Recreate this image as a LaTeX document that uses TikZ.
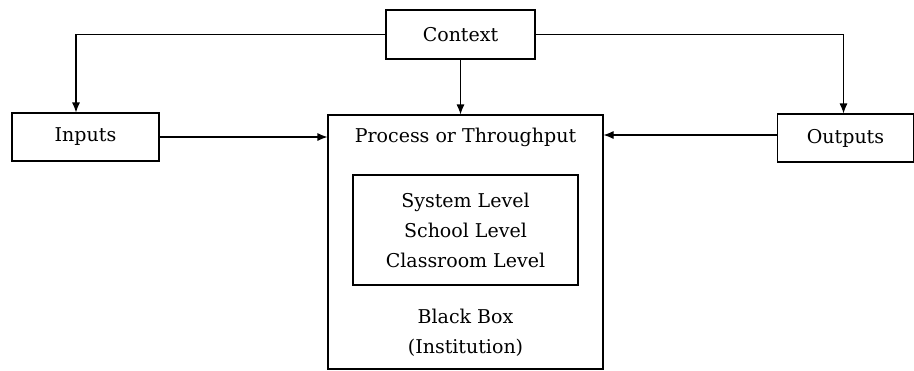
\documentclass[tikz,border=0pt]{standalone}
\usepackage{fontspec}
\setmainfont{DejaVu Serif}
\usetikzlibrary{positioning,arrows.meta}

\begin{document}
\begin{tikzpicture}[x=1pt, y=-1pt, line width=1.1pt,
    >={Latex[length=10pt,width=8pt]},
    every node/.style={font=\fontsize{19}{30}\selectfont},
    box/.style={draw, rectangle, inner sep=0pt}]

    \useasboundingbox (0,0) rectangle (914,370);

    \node[box, minimum width=149pt, minimum height=49pt] (context) at (460.5,34.5) {Context};
    \node[box, minimum width=147pt, minimum height=48pt] (inputs) at (85.5,137) {Inputs};
    \node[box, minimum width=136pt, minimum height=48pt] (outputs) at (845.5,138) {Outputs};

    % black box with its levels
    \node[box, minimum width=275pt, minimum height=254pt] (process) at (465.5,242) {};
    \node (throughput) at (465.5,137) {Process or Throughput};
    \node[box, minimum width=225pt, minimum height=110pt, align=center] (levels) at (465.5,230)
        {System Level\\School Level\\Classroom Level};
    \node[align=center] (blackbox) at (465.5,333) {Black Box\\(Institution)};

    \draw[->] (context) -- (context |- process.north);
    \draw[->] (context.west) -| ([xshift=-9.5pt]inputs.north);
    \draw[->] (context.east) -| ([xshift=-2pt]outputs.north);
    \draw[->] (inputs) -- (inputs -| process.west);
    \draw[->] ([yshift=3pt]outputs.west) -- ([yshift=3pt]outputs.west -| process.east);

\end{tikzpicture}
\end{document}
